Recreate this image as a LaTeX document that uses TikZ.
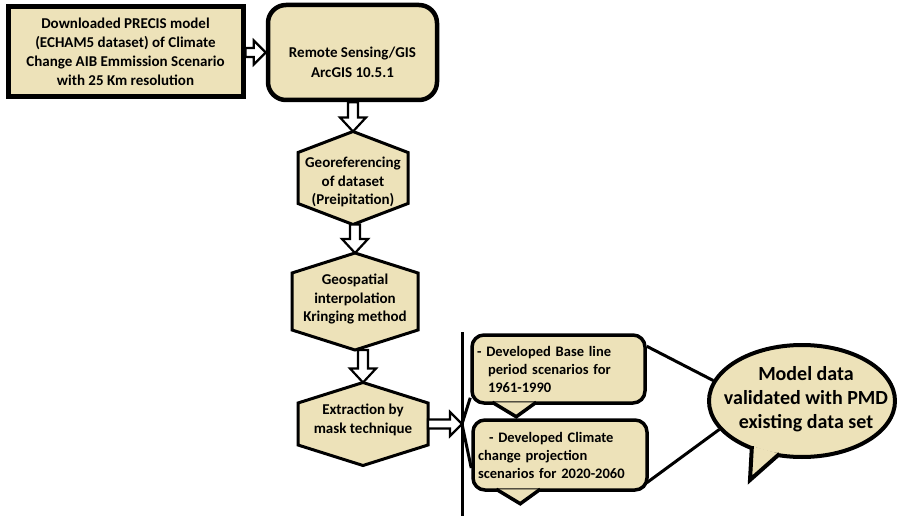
\documentclass[tikz,border=0pt]{standalone}
\usepackage{fontspec}
\setmainfont{Carlito}
\usetikzlibrary{calc,shapes.geometric}
\definecolor{beige}{RGB}{237,226,185}
\tikzset{
  sqbox/.style={draw, line width=5pt, fill=beige, minimum width=235pt, minimum height=90pt, align=center, inner sep=0pt, font=\fontsize{15}{19}\selectfont\bfseries},
  rbox/.style={draw, line width=4.5pt, fill=beige, rounded corners=18pt, minimum width=169pt, minimum height=95pt, align=center, inner sep=0pt, font=\fontsize{15}{20}\selectfont\bfseries},
  hextext/.style={align=center, inner sep=0pt, font=\fontsize{15}{18.5}\selectfont\bfseries},
  hexline/.style={draw, line width=3pt, fill=beige, line join=miter},
  blockarrow/.style={draw, line width=2.2pt, fill=white, line join=miter},
  callout/.style={draw, line width=3.5pt, fill=beige, rounded corners=12pt, align=left, inner xsep=5pt, inner ysep=0pt, font=\fontsize{14.5}{18}\selectfont\bfseries},
  tail/.style={draw, line width=3.5pt, fill=beige, line join=miter},
  link/.style={line width=3pt},
}
\newcommand\vbarrow[2]{%
  \draw[blockarrow] let \p1=(#1), \p2=(#2) in
   (\x2-5pt,\y1) -- (\x2-5pt,\y2+14pt) -- (\x2-13pt,\y2+14pt) -- (\x2,\y2) --
   (\x2+13pt,\y2+14pt) -- (\x2+5pt,\y2+14pt) -- (\x2+5pt,\y1) -- cycle;}
\newcommand\hbarrow[2]{%
  \draw[blockarrow] let \p1=(#1), \p2=(#2) in
   (\x1,\y2+4.5pt) -- (\x2-12pt,\y2+4.5pt) -- (\x2-12pt,\y2+12pt) -- (\x2,\y2) --
   (\x2-12pt,\y2-12pt) -- (\x2-12pt,\y2-4.5pt) -- (\x1,\y2-4.5pt) -- cycle;}
\newcommand\hexat[6]{%
  \coordinate (#1) at (#2,#3);
  \coordinate (#1-n) at (#2,#3-#5-#6);
  \coordinate (#1-s) at (#2,#3+#5+#6);
  \coordinate (#1-e) at (#2+#4,#3);
  \draw[hexline] (#2-#4,#3-#5) -- (#1-n) -- (#2+#4,#3-#5) -- (#2+#4,#3+#5) --
    (#1-s) -- (#2-#4,#3+#5) -- cycle;}
\begin{document}
\begin{tikzpicture}[x=1pt, y=-1pt]
\fill[white] (0,0) rectangle (897,516);
\useasboundingbox (0,0) rectangle (897,516);

% top boxes
\node[sqbox] (src) at (125.5,52) {Downloaded PRECIS model\\(ECHAM5 dataset) of Climate\\Change AIB Emmission Scenario\\with 25 Km resolution};
\node[rbox] (gis) at (352.5,52.5) {\rule{0pt}{31pt}Remote Sensing/GIS\\ArcGIS 10.5.1};

% hexagons
\hexat{h1}{353}{178}{55}{25.5}{21}
\hexat{h2}{355}{301.5}{63}{28.5}{20}
\hexat{h3}{363}{424}{65}{21}{20.5}
\node[hextext] (h1t) at (353,182) {Georeferencing\\of dataset\\(Preipitation)};
\node[hextext] (h2t) at (355,299) {Geospatial\\interpolation\\Kringing method};
\node[hextext] (h3t) at (363,420) {Extraction by\\mask technique};

% block arrows
\hbarrow{src.east}{gis.west}
\vbarrow{gis.south}{h1-n}
\vbarrow{h1-s}{h2-n}
\vbarrow{h2-s}{h3-n}

% vertical bar
\coordinate (vt) at (462,332);
\coordinate (vb) at (462,516);
\coordinate (J) at (462,424);
\draw[link] (vt) -- (vb);
\hbarrow{h3-e}{J}

% callouts
\node[callout, text width=163pt, minimum height=68pt] (c1) at (558.5,369) {- Developed Base line\\\hspace*{11pt}period scenarios for\\\hspace*{11pt}1961-1990};
\draw[tail] ($(c1.south west)+(22,-2.5)$) -- ($(c1.south west)+(46,12)$) -- ($(c1.south west)+(66,-2.5)$);
\node[callout, text width=164pt, minimum height=70pt] (c2) at (560,455) {\hspace*{11pt}- Developed Climate\\change projection\\scenarios for 2020-2060};
\draw[tail] ($(c2.south west)+(25,-2.5)$) -- ($(c2.south west)+(49,12)$) -- ($(c2.south west)+(69,-2.5)$);

% bracket lines
\draw[link] (J) -- ($(c1.south west)+(0,-7)$);
\draw[link] (J) -- ($(c2.west)+(0,13)$);

% validation ellipse
\node[ellipse, draw, line width=4pt, fill=beige, minimum width=186pt, minimum height=112pt, inner sep=0pt] (val) at (802,401) {};
\draw[tail, line width=4pt] ($(val.center)!0.94!(val.222)$) -- ($(val.center)+(-52,79)$) -- ($(val.center)!0.94!(val.247)$);
\node[align=center, inner sep=0pt, font=\fontsize{20}{24}\selectfont\bfseries] (valt) at (806,399) {Model data\\validated with PMD\\existing data set};

\draw[link] ($(c1.north east)+(0,13)$) -- (val.167);
\draw[link] ($(c2.south east)+(-2,-9)$) -- (val.199);
\end{tikzpicture}
\end{document}
